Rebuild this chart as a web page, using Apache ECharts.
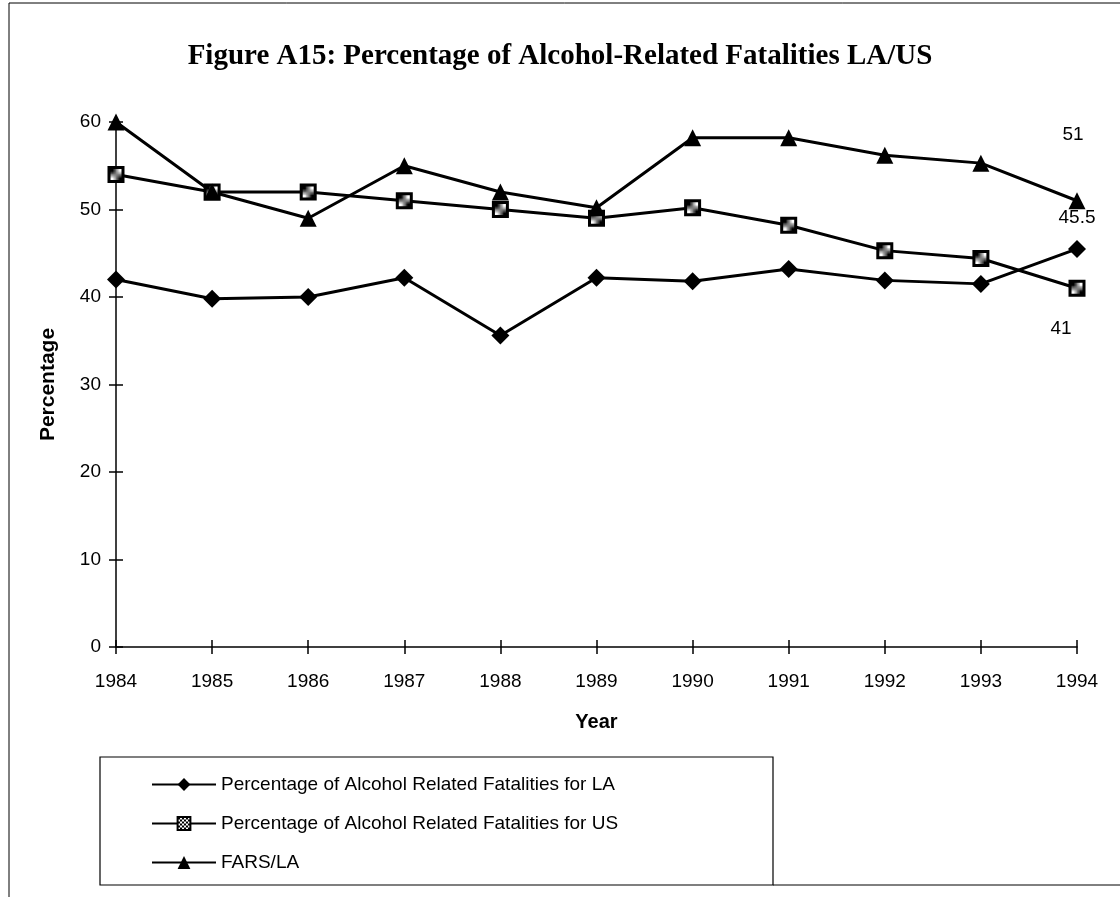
<!DOCTYPE html>
<html>
<head>
    <meta charset="utf-8">
    <title>Figure A15</title>
    <script src="https://cdn.jsdelivr.net/npm/echarts@6/dist/echarts.min.js"></script>
    <style>
        html, body { margin: 0; padding: 0; background: #fff; }
        #chart1 { width: 1120px; height: 897px; }
    </style>
</head>
<body>
<div id="chart1"></div>
<script type="text/javascript">
    // 数据
    var years = ['1984', '1985', '1986', '1987', '1988', '1989', '1990', '1991', '1992', '1993', '1994'];
    var laValues = [42, 39.8, 40, 42.2, 35.6, 42.2, 41.8, 43.2, 41.9, 41.5, 45.5];
    var usValues = [54, 52, 52, 51, 50, 49, 50.2, 48.2, 45.3, 44.4, 41];
    var farsValues = [60, 52, 49, 55, 52, 50.2, 58.2, 58.2, 56.2, 55.3, 51];
    var seriesNames = [
        'Percentage of Alcohol Related Fatalities for LA',
        'Percentage of Alcohol Related Fatalities for US',
        'FARS/LA'
    ];

    var sans = '"Liberation Sans", Arial, sans-serif';

    // 方块里的网点填充
    var dots = document.createElement('canvas');
    dots.width = 4;
    dots.height = 4;
    var dctx = dots.getContext('2d');
    dctx.fillStyle = '#fff';
    dctx.fillRect(0, 0, 4, 4);
    dctx.fillStyle = '#000';
    dctx.fillRect(0, 0, 2, 2);
    dctx.fillRect(2, 2, 2, 2);

    // 最后一个点加数值标签
    function withEndLabel(values, offset) {
        return values.map(function (v, i) {
            if (i !== values.length - 1) return v;
            return {
                value: v,
                label: {
                    show: true,
                    position: 'inside',
                    offset: offset,
                    color: '#000',
                    fontFamily: sans,
                    fontSize: 19
                }
            };
        });
    }

    var tickStyle = { color: '#000', width: 1.5 };

    var myChart1 = echarts.init(document.getElementById('chart1'));
    myChart1.setOption({
        animation: false,
        backgroundColor: '#fff',
        title: {
            text: 'Figure A15: Percentage of Alcohol-Related Fatalities LA/US',
            left: 'center',
            top: 37,
            textStyle: {
                fontFamily: '"Liberation Serif", "Times New Roman", serif',
                fontWeight: 'bold',
                fontSize: 29,
                color: '#000'
            }
        },
        grid: {
            left: 116,
            right: 43,
            top: 122,
            bottom: 250
        },
        legend: {
            orient: 'vertical',
            left: 146,
            top: 770,
            itemWidth: 64,
            itemHeight: 16,
            itemGap: 20,
            textStyle: { fontFamily: sans, fontSize: 19, color: '#000' },
            data: seriesNames
        },
        xAxis: [
            {
                type: 'category',
                data: years,
                boundaryGap: false,
                position: 'bottom',
                name: 'Year',
                nameLocation: 'middle',
                nameGap: 65,
                nameTextStyle: { fontFamily: sans, fontSize: 20, fontWeight: 'bold', color: '#000' },
                axisLine: { lineStyle: { color: '#000', width: 1.5 } },
                axisTick: { show: true, length: 7, lineStyle: tickStyle },
                axisLabel: { margin: 25, fontFamily: sans, fontSize: 19, color: '#000' },
                splitLine: { show: false }
            },
            {
                // 向内的刻度，做成十字刻度
                type: 'category',
                data: years,
                boundaryGap: false,
                position: 'bottom',
                offset: 0,
                axisLine: { show: false },
                axisTick: { show: true, inside: true, length: 7, lineStyle: tickStyle },
                axisLabel: { show: false },
                splitLine: { show: false }
            }
        ],
        yAxis: [
            {
                type: 'value',
                min: 0,
                max: 60,
                interval: 10,
                position: 'left',
                name: 'Percentage',
                nameLocation: 'middle',
                nameGap: 57,
                nameTextStyle: { fontFamily: sans, fontSize: 21, fontWeight: 'bold', color: '#000' },
                axisLine: { show: true, lineStyle: { color: '#000', width: 1.5 } },
                axisTick: { show: true, length: 7, lineStyle: tickStyle },
                axisLabel: { margin: 15, fontFamily: sans, fontSize: 19, color: '#000' },
                splitLine: { show: false }
            },
            {
                type: 'value',
                min: 0,
                max: 60,
                interval: 10,
                position: 'left',
                offset: 0,
                axisLine: { show: false },
                axisTick: { show: true, inside: true, length: 7, lineStyle: tickStyle },
                axisLabel: { show: false },
                splitLine: { show: false }
            }
        ],
        series: [
            {
                name: seriesNames[0],
                type: 'line',
                data: withEndLabel(laValues, [0, -31]),
                symbol: 'diamond',
                symbolSize: 18,
                lineStyle: { color: '#000', width: 3 },
                itemStyle: { color: '#000' }
            },
            {
                name: seriesNames[1],
                type: 'line',
                data: withEndLabel(usValues, [-16, 41]),
                symbol: 'rect',
                symbolSize: 14,
                lineStyle: { color: '#000', width: 3 },
                itemStyle: {
                    color: { image: dots, repeat: 'repeat' },
                    borderColor: '#000',
                    borderWidth: 3
                }
            },
            {
                name: seriesNames[2],
                type: 'line',
                data: withEndLabel(farsValues, [-4, -66]),
                symbol: 'triangle',
                symbolSize: 17,
                lineStyle: { color: '#000', width: 3 },
                itemStyle: { color: '#000' }
            }
        ],
        graphic: [
            // 外框
            { type: 'line', shape: { x1: 9, y1: 3, x2: 1120, y2: 3 }, style: { stroke: '#000', lineWidth: 1 } },
            { type: 'line', shape: { x1: 9, y1: 3, x2: 9, y2: 897 }, style: { stroke: '#000', lineWidth: 1 } },
            { type: 'line', shape: { x1: 773, y1: 885, x2: 1120, y2: 885 }, style: { stroke: '#000', lineWidth: 1 } },
            // 图例框
            { type: 'rect', shape: { x: 100, y: 757, width: 673, height: 128 }, style: { fill: 'none', stroke: '#000', lineWidth: 1.2 } }
        ]
    });
</script>
</body>
</html>
